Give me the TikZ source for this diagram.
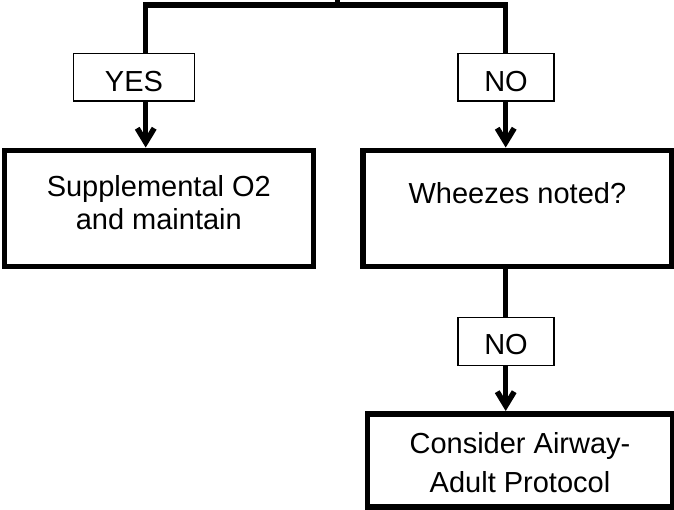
\documentclass[tikz,border=0pt]{standalone}
\usepackage{fontspec}
\setmainfont{Liberation Sans}
\usetikzlibrary{arrows.meta}
\begin{document}
\begin{tikzpicture}[x=1pt,y=1pt,
  conn/.style={line width=5.5pt, line join=miter},
  arr/.style={conn, -{Straight Barb[length=14pt,width=17pt]}},
  bigbox/.style={draw, line width=5.5pt, rectangle, inner sep=0pt, align=center,
    font=\fontsize{29}{33.3}\selectfont},
  lblbox/.style={draw, line width=1.1pt, fill=white, rectangle, inner sep=0pt,
    minimum height=47.7pt, text height=29pt, text depth=0pt,
    font=\fontsize{29}{33.3}\selectfont}]
\useasboundingbox (0,0) rectangle (674,-510);
\clip (0,0) rectangle (674,-510);

% boxes
\node[bigbox, minimum width=309pt, minimum height=116.4pt,
      text height=43pt, text depth=0pt] (sup) at (158.8,-208.5)
      {Supplemental O2\\and maintain};
\node[bigbox, minimum width=308.7pt, minimum height=116.4pt,
      text height=0pt, text depth=9pt] (whz) at (517.4,-208.5)
      {Wheezes noted?};
\node[bigbox, font=\fontsize{29}{39.3}\selectfont, minimum width=305.3pt, minimum height=93.3pt,
      text height=64.6pt, text depth=0pt] (adult) at (520,-460.4)
      {Consider Airway-\\Adult Protocol};

% label boxes
\node[lblbox, minimum width=120.6pt] (yesl) at (134,-77.2) {YES};
\node[lblbox, minimum width=96pt] (nol) at (506,-77.2) {NO};
\node[lblbox, minimum width=96pt, text height=25.6pt] (no2) at (506,-341.2) {NO};

% junction coordinates
\coordinate (top) at (337.5,10);
\coordinate (jc) at (337.5,-5);
\coordinate (jl) at (145.7,-5);
\coordinate (jr) at (505.7,-5);

% connectors
\draw[conn] (top) -- (jc);
\draw[conn] (jl |- yesl.north) -- (jl) -- (jr) -- (jr |- nol.north);
\draw[arr] (jl |- yesl.south) -- (jl |- sup.north);
\draw[arr] (jr |- nol.south) -- (jr |- whz.north);
\draw[conn] (jr |- whz.south) -- (jr |- no2.north);
\draw[arr] (jr |- no2.south) -- (jr |- adult.north);
\end{tikzpicture}
\end{document}
